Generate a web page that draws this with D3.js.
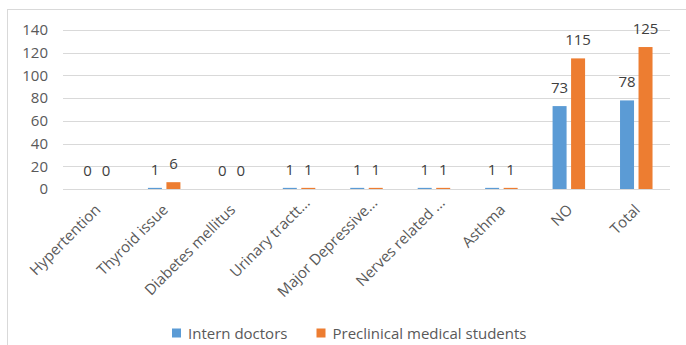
<!DOCTYPE html>
<html><head><meta charset="utf-8">
<script src="https://cdn.jsdelivr.net/npm/d3@7"></script>
<style>body{margin:0;background:#fff;font-family:"Open Sans",sans-serif;}</style>
</head><body>
<svg id="c" width="686" height="345"></svg>
<script>
const categories = ["Hypertention","Thyroid issue","Diabetes mellitus","Urinary tractt...","Major Depressive...","Nerves related ...","Asthma","NO","Total"];
const seriesNames = ["Intern doctors","Preclinical medical students"];
const internDoctors = [0,1,0,1,1,1,1,73,78];
const preclinicalStudents = [0,6,0,1,1,1,1,115,125];
const yTicks = [0,20,40,60,80,100,120,140];
const colors = ["#5B9BD5","#ED7D31"];

const svg = d3.select("#c");
svg.append("rect").attr("x",7.5).attr("y",9.5).attr("width",690).attr("height",345)
  .attr("fill","#fff").attr("stroke","#d9d9d9");

const x0 = d3.scaleBand().domain(categories).range([63,670]).paddingInner(0).paddingOuter(0);
const y = d3.scaleLinear().domain([0,140]).range([189,30]);

const grid = svg.append("g");
grid.selectAll("line").data(yTicks).join("line")
  .attr("x1",63).attr("x2",670).attr("y1",d=>Math.round(y(d))+0.5).attr("y2",d=>Math.round(y(d))+0.5)
  .attr("stroke","#d9d9d9").attr("stroke-width",1);

const yAxis = d3.axisLeft(y).tickValues(yTicks).tickSize(0).tickPadding(0);
const ya = svg.append("g").attr("transform","translate(48,0)").call(yAxis);
ya.select(".domain").remove();
ya.selectAll("text").attr("fill","#595959").style("font-size","15px").style("font-family","Open Sans");

const bw = 14, gap = 4.5;
const data = categories.map((c,i)=>({c, v:[internDoctors[i], preclinicalStudents[i]]}));
const g = svg.append("g");
data.forEach(d=>{
  const cx = x0(d.c) + x0.bandwidth()/2;
  d.v.forEach((v,s)=>{
    const bx = s===0 ? cx - gap/2 - bw : cx + gap/2;
    const h = Math.max(y(0)-y(v), 0);
    g.append("rect").attr("x",bx).attr("y",y(v)).attr("width",bw).attr("height",h)
      .attr("fill",colors[s]);
    g.append("text").attr("x",bx+bw/2).attr("y",y(v)-13).attr("text-anchor","middle")
      .attr("fill","#404040").style("font-size","15px").text(v);
  });
});

const xa = svg.append("g");
categories.forEach(c=>{
  const cx = x0(c) + x0.bandwidth()/2 + 1;
  xa.append("text").attr("transform",`translate(${cx},207) rotate(-45)`)
    .attr("text-anchor","end").attr("dy","0.35em").attr("dx", c.endsWith("...") ? 10 : 0)
    .attr("fill","#595959").style("font-size","15px").text(c);
});

const leg = svg.append("g");
const items = [{x:172, t:seriesNames[0], c:colors[0]},{x:316.5, t:seriesNames[1], c:colors[1]}];
items.forEach(it=>{
  leg.append("rect").attr("x",it.x).attr("y",328.5).attr("width",9).attr("height",9).attr("fill",it.c);
  leg.append("text").attr("x",it.x+16).attr("y",338.5).attr("fill","#595959").style("font-size","15px").text(it.t);
});
</script>
</body></html>
